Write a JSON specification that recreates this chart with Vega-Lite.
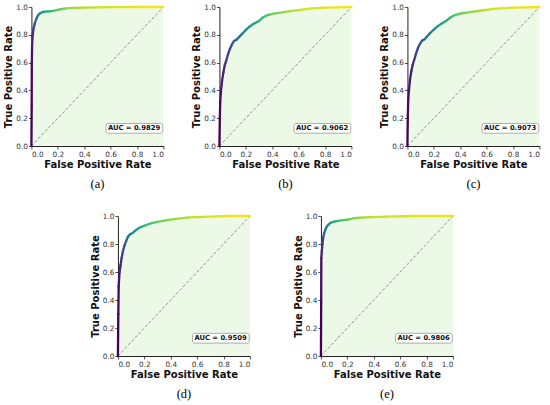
{
  "$schema": "https://vega.github.io/schema/vega-lite/v6.json",
  "padding": {"left": 3, "top": 3, "right": 0, "bottom": 0},
  "background": "white",
  "datasets": {
    "roc": [
      {"p": "a", "fpr": 0, "tpr": 0, "t": 0},
      {"p": "a", "fpr": 0.002, "tpr": 0.3, "t": 0.02},
      {"p": "a", "fpr": 0.003, "tpr": 0.6, "t": 0.05},
      {"p": "a", "fpr": 0.005, "tpr": 0.72, "t": 0.09},
      {"p": "a", "fpr": 0.009, "tpr": 0.79, "t": 0.14},
      {"p": "a", "fpr": 0.015, "tpr": 0.84, "t": 0.21},
      {"p": "a", "fpr": 0.025, "tpr": 0.88, "t": 0.28},
      {"p": "a", "fpr": 0.035, "tpr": 0.91, "t": 0.35},
      {"p": "a", "fpr": 0.05, "tpr": 0.94, "t": 0.43},
      {"p": "a", "fpr": 0.065, "tpr": 0.955, "t": 0.5},
      {"p": "a", "fpr": 0.08, "tpr": 0.962, "t": 0.55},
      {"p": "a", "fpr": 0.1, "tpr": 0.966, "t": 0.6},
      {"p": "a", "fpr": 0.13, "tpr": 0.968, "t": 0.66},
      {"p": "a", "fpr": 0.17, "tpr": 0.972, "t": 0.72},
      {"p": "a", "fpr": 0.21, "tpr": 0.982, "t": 0.78},
      {"p": "a", "fpr": 0.26, "tpr": 0.99, "t": 0.83},
      {"p": "a", "fpr": 0.32, "tpr": 0.993, "t": 0.87},
      {"p": "a", "fpr": 0.4, "tpr": 0.995, "t": 0.9},
      {"p": "a", "fpr": 0.5, "tpr": 0.997, "t": 0.93},
      {"p": "a", "fpr": 0.6, "tpr": 0.999, "t": 0.95},
      {"p": "a", "fpr": 0.8, "tpr": 1, "t": 0.98},
      {"p": "a", "fpr": 1, "tpr": 1, "t": 1},

      {"p": "b", "fpr": 0, "tpr": 0, "t": 0},
      {"p": "b", "fpr": 0.003, "tpr": 0.2, "t": 0.02},
      {"p": "b", "fpr": 0.006, "tpr": 0.32, "t": 0.04},
      {"p": "b", "fpr": 0.012, "tpr": 0.4, "t": 0.06},
      {"p": "b", "fpr": 0.02, "tpr": 0.47, "t": 0.08},
      {"p": "b", "fpr": 0.03, "tpr": 0.53, "t": 0.1},
      {"p": "b", "fpr": 0.04, "tpr": 0.58, "t": 0.13},
      {"p": "b", "fpr": 0.05, "tpr": 0.61, "t": 0.16},
      {"p": "b", "fpr": 0.065, "tpr": 0.66, "t": 0.19},
      {"p": "b", "fpr": 0.08, "tpr": 0.7, "t": 0.22},
      {"p": "b", "fpr": 0.095, "tpr": 0.73, "t": 0.26},
      {"p": "b", "fpr": 0.11, "tpr": 0.755, "t": 0.3},
      {"p": "b", "fpr": 0.13, "tpr": 0.765, "t": 0.34},
      {"p": "b", "fpr": 0.15, "tpr": 0.785, "t": 0.38},
      {"p": "b", "fpr": 0.17, "tpr": 0.805, "t": 0.42},
      {"p": "b", "fpr": 0.2, "tpr": 0.835, "t": 0.49},
      {"p": "b", "fpr": 0.23, "tpr": 0.86, "t": 0.54},
      {"p": "b", "fpr": 0.26, "tpr": 0.88, "t": 0.59},
      {"p": "b", "fpr": 0.3, "tpr": 0.9, "t": 0.65},
      {"p": "b", "fpr": 0.33, "tpr": 0.925, "t": 0.7},
      {"p": "b", "fpr": 0.36, "tpr": 0.94, "t": 0.74},
      {"p": "b", "fpr": 0.4, "tpr": 0.95, "t": 0.79},
      {"p": "b", "fpr": 0.45, "tpr": 0.958, "t": 0.83},
      {"p": "b", "fpr": 0.5, "tpr": 0.965, "t": 0.86},
      {"p": "b", "fpr": 0.55, "tpr": 0.972, "t": 0.89},
      {"p": "b", "fpr": 0.6, "tpr": 0.978, "t": 0.92},
      {"p": "b", "fpr": 0.65, "tpr": 0.985, "t": 0.94},
      {"p": "b", "fpr": 0.7, "tpr": 0.99, "t": 0.95},
      {"p": "b", "fpr": 0.8, "tpr": 0.995, "t": 0.97},
      {"p": "b", "fpr": 0.9, "tpr": 0.998, "t": 0.98},
      {"p": "b", "fpr": 1, "tpr": 1, "t": 1},

      {"p": "c", "fpr": 0, "tpr": 0, "t": 0},
      {"p": "c", "fpr": 0.003, "tpr": 0.22, "t": 0.02},
      {"p": "c", "fpr": 0.006, "tpr": 0.33, "t": 0.04},
      {"p": "c", "fpr": 0.012, "tpr": 0.41, "t": 0.06},
      {"p": "c", "fpr": 0.02, "tpr": 0.48, "t": 0.08},
      {"p": "c", "fpr": 0.03, "tpr": 0.54, "t": 0.1},
      {"p": "c", "fpr": 0.04, "tpr": 0.585, "t": 0.13},
      {"p": "c", "fpr": 0.05, "tpr": 0.615, "t": 0.16},
      {"p": "c", "fpr": 0.065, "tpr": 0.665, "t": 0.19},
      {"p": "c", "fpr": 0.08, "tpr": 0.705, "t": 0.22},
      {"p": "c", "fpr": 0.095, "tpr": 0.735, "t": 0.26},
      {"p": "c", "fpr": 0.11, "tpr": 0.757, "t": 0.3},
      {"p": "c", "fpr": 0.13, "tpr": 0.768, "t": 0.34},
      {"p": "c", "fpr": 0.15, "tpr": 0.79, "t": 0.38},
      {"p": "c", "fpr": 0.17, "tpr": 0.81, "t": 0.42},
      {"p": "c", "fpr": 0.2, "tpr": 0.838, "t": 0.49},
      {"p": "c", "fpr": 0.23, "tpr": 0.862, "t": 0.54},
      {"p": "c", "fpr": 0.26, "tpr": 0.882, "t": 0.59},
      {"p": "c", "fpr": 0.3, "tpr": 0.905, "t": 0.65},
      {"p": "c", "fpr": 0.33, "tpr": 0.928, "t": 0.7},
      {"p": "c", "fpr": 0.36, "tpr": 0.942, "t": 0.74},
      {"p": "c", "fpr": 0.4, "tpr": 0.952, "t": 0.79},
      {"p": "c", "fpr": 0.45, "tpr": 0.96, "t": 0.83},
      {"p": "c", "fpr": 0.5, "tpr": 0.967, "t": 0.86},
      {"p": "c", "fpr": 0.55, "tpr": 0.973, "t": 0.89},
      {"p": "c", "fpr": 0.6, "tpr": 0.979, "t": 0.92},
      {"p": "c", "fpr": 0.65, "tpr": 0.987, "t": 0.94},
      {"p": "c", "fpr": 0.7, "tpr": 0.99, "t": 0.95},
      {"p": "c", "fpr": 0.8, "tpr": 0.995, "t": 0.97},
      {"p": "c", "fpr": 0.9, "tpr": 0.998, "t": 0.98},
      {"p": "c", "fpr": 1, "tpr": 1, "t": 1},

      {"p": "d", "fpr": 0, "tpr": 0, "t": 0},
      {"p": "d", "fpr": 0.003, "tpr": 0.3, "t": 0.02},
      {"p": "d", "fpr": 0.006, "tpr": 0.5, "t": 0.05},
      {"p": "d", "fpr": 0.012, "tpr": 0.6, "t": 0.08},
      {"p": "d", "fpr": 0.02, "tpr": 0.65, "t": 0.12},
      {"p": "d", "fpr": 0.028, "tpr": 0.7, "t": 0.17},
      {"p": "d", "fpr": 0.038, "tpr": 0.75, "t": 0.22},
      {"p": "d", "fpr": 0.05, "tpr": 0.79, "t": 0.28},
      {"p": "d", "fpr": 0.062, "tpr": 0.82, "t": 0.33},
      {"p": "d", "fpr": 0.075, "tpr": 0.85, "t": 0.39},
      {"p": "d", "fpr": 0.09, "tpr": 0.868, "t": 0.44},
      {"p": "d", "fpr": 0.11, "tpr": 0.878, "t": 0.5},
      {"p": "d", "fpr": 0.13, "tpr": 0.895, "t": 0.55},
      {"p": "d", "fpr": 0.16, "tpr": 0.915, "t": 0.61},
      {"p": "d", "fpr": 0.2, "tpr": 0.93, "t": 0.67},
      {"p": "d", "fpr": 0.25, "tpr": 0.948, "t": 0.73},
      {"p": "d", "fpr": 0.3, "tpr": 0.958, "t": 0.78},
      {"p": "d", "fpr": 0.37, "tpr": 0.97, "t": 0.83},
      {"p": "d", "fpr": 0.44, "tpr": 0.98, "t": 0.87},
      {"p": "d", "fpr": 0.54, "tpr": 0.99, "t": 0.91},
      {"p": "d", "fpr": 0.65, "tpr": 0.994, "t": 0.94},
      {"p": "d", "fpr": 0.75, "tpr": 0.997, "t": 0.96},
      {"p": "d", "fpr": 0.85, "tpr": 1, "t": 0.98},
      {"p": "d", "fpr": 1, "tpr": 1, "t": 1},

      {"p": "e", "fpr": 0, "tpr": 0, "t": 0},
      {"p": "e", "fpr": 0.002, "tpr": 0.4, "t": 0.03},
      {"p": "e", "fpr": 0.003, "tpr": 0.7, "t": 0.08},
      {"p": "e", "fpr": 0.007, "tpr": 0.75, "t": 0.13},
      {"p": "e", "fpr": 0.012, "tpr": 0.8, "t": 0.2},
      {"p": "e", "fpr": 0.018, "tpr": 0.85, "t": 0.28},
      {"p": "e", "fpr": 0.025, "tpr": 0.88, "t": 0.34},
      {"p": "e", "fpr": 0.035, "tpr": 0.905, "t": 0.4},
      {"p": "e", "fpr": 0.045, "tpr": 0.925, "t": 0.46},
      {"p": "e", "fpr": 0.058, "tpr": 0.94, "t": 0.52},
      {"p": "e", "fpr": 0.075, "tpr": 0.952, "t": 0.57},
      {"p": "e", "fpr": 0.1, "tpr": 0.96, "t": 0.63},
      {"p": "e", "fpr": 0.13, "tpr": 0.965, "t": 0.69},
      {"p": "e", "fpr": 0.17, "tpr": 0.97, "t": 0.74},
      {"p": "e", "fpr": 0.21, "tpr": 0.975, "t": 0.79},
      {"p": "e", "fpr": 0.25, "tpr": 0.984, "t": 0.83},
      {"p": "e", "fpr": 0.3, "tpr": 0.988, "t": 0.87},
      {"p": "e", "fpr": 0.38, "tpr": 0.992, "t": 0.91},
      {"p": "e", "fpr": 0.5, "tpr": 0.996, "t": 0.94},
      {"p": "e", "fpr": 0.7, "tpr": 1, "t": 0.97},
      {"p": "e", "fpr": 1, "tpr": 1, "t": 1}
    ],
    "auc": [
      {"p": "a", "auc": 0.9829},
      {"p": "b", "auc": 0.9062},
      {"p": "c", "auc": 0.9073},
      {"p": "d", "auc": 0.9509},
      {"p": "e", "auc": 0.9806}
    ]
  },
  "config": {
    "view": {"stroke": null},
    "font": "DejaVu Sans",
    "axis": {
      "grid": false,
      "domainColor": "#222",
      "domainWidth": 1,
      "tickColor": "#222",
      "tickSize": 3,
      "tickWidth": 0.8,
      "labelFont": "DejaVu Sans",
      "labelFontSize": 7.3,
      "labelColor": "#333",
      "labelPadding": 1,
      "titleFont": "DejaVu Sans",
      "titleFontSize": 10,
      "titleFontWeight": "bold",
      "titleColor": "#111",
      "values": [0, 0.2, 0.4, 0.6, 0.8, 1],
      "format": ".1f"
    },
    "axisX": {"titlePadding": 2},
    "axisY": {"titlePadding": 2},
    "title": {"font": "Liberation Serif", "fontSize": 12.5, "fontWeight": "normal", "color": "#000", "offset": 9}
  },
  "vconcat": [
    {
      "spacing": 26,
      "hconcat": [
        {
          "width": 132, "height": 139,
          "title": {"text": "(a)", "orient": "bottom"},
          "layer": [
            {"data": {"name": "roc"}, "transform": [{"filter": "datum.p === 'a'"}],
             "mark": {"type": "area", "color": "#ecf9e6"},
             "encoding": {
               "x": {"field": "fpr", "type": "quantitative", "scale": {"domain": [0, 1], "nice": false}, "axis": {"title": "False Positive Rate"}},
               "y": {"field": "tpr", "type": "quantitative", "scale": {"domain": [0, 1], "nice": false}, "axis": {"title": "True Positive Rate"}}}},
            {"data": {"name": "auc"}, "transform": [{"filter": "datum.p === 'a'"}],
             "mark": {"type": "rule", "color": "#777", "strokeDash": [3, 2], "strokeWidth": 0.8},
             "encoding": {"x": {"datum": 0}, "y": {"datum": 0}, "x2": {"datum": 1}, "y2": {"datum": 1}}},
            {"data": {"name": "roc"},
             "transform": [{"filter": "datum.p === 'a'"},
               {"window": [{"op": "lead", "field": "fpr", "as": "fpr2"}, {"op": "lead", "field": "tpr", "as": "tpr2"}], "sort": [{"field": "t"}]},
               {"filter": "isValid(datum.fpr2)"}],
             "mark": {"type": "rule", "strokeWidth": 2.3, "strokeCap": "round"},
             "encoding": {
               "x": {"field": "fpr", "type": "quantitative"}, "y": {"field": "tpr", "type": "quantitative"},
               "x2": {"field": "fpr2"}, "y2": {"field": "tpr2"},
               "color": {"field": "t", "type": "quantitative", "scale": {"scheme": "viridis", "domain": [0, 1]}, "legend": null}}},
            {"data": {"name": "auc"}, "transform": [{"filter": "datum.p === 'a'"}],
             "mark": {"type": "rect", "fill": "white", "stroke": "#999", "strokeWidth": 0.8, "cornerRadius": 2},
             "encoding": {"x": {"datum": 0.565}, "x2": {"datum": 0.995}, "y": {"datum": 0.092}, "y2": {"datum": 0.162}}},
            {"data": {"name": "auc"}, "transform": [{"filter": "datum.p === 'a'"}, {"calculate": "'AUC = ' + format(datum.auc, '.4f')", "as": "label"}],
             "mark": {"type": "text", "align": "right", "baseline": "middle", "fontSize": 6.8, "fontWeight": "bold", "font": "DejaVu Sans", "color": "#111"},
             "encoding": {"x": {"datum": 0.975}, "y": {"datum": 0.127}, "text": {"field": "label"}}}
          ]
        },
        {
          "width": 132, "height": 139,
          "title": {"text": "(b)", "orient": "bottom"},
          "layer": [
            {"data": {"name": "roc"}, "transform": [{"filter": "datum.p === 'b'"}],
             "mark": {"type": "area", "color": "#ecf9e6"},
             "encoding": {
               "x": {"field": "fpr", "type": "quantitative", "scale": {"domain": [0, 1], "nice": false}, "axis": {"title": "False Positive Rate"}},
               "y": {"field": "tpr", "type": "quantitative", "scale": {"domain": [0, 1], "nice": false}, "axis": {"title": "True Positive Rate"}}}},
            {"data": {"name": "auc"}, "transform": [{"filter": "datum.p === 'b'"}],
             "mark": {"type": "rule", "color": "#777", "strokeDash": [3, 2], "strokeWidth": 0.8},
             "encoding": {"x": {"datum": 0}, "y": {"datum": 0}, "x2": {"datum": 1}, "y2": {"datum": 1}}},
            {"data": {"name": "roc"},
             "transform": [{"filter": "datum.p === 'b'"},
               {"window": [{"op": "lead", "field": "fpr", "as": "fpr2"}, {"op": "lead", "field": "tpr", "as": "tpr2"}], "sort": [{"field": "t"}]},
               {"filter": "isValid(datum.fpr2)"}],
             "mark": {"type": "rule", "strokeWidth": 2.3, "strokeCap": "round"},
             "encoding": {
               "x": {"field": "fpr", "type": "quantitative"}, "y": {"field": "tpr", "type": "quantitative"},
               "x2": {"field": "fpr2"}, "y2": {"field": "tpr2"},
               "color": {"field": "t", "type": "quantitative", "scale": {"scheme": "viridis", "domain": [0, 1]}, "legend": null}}},
            {"data": {"name": "auc"}, "transform": [{"filter": "datum.p === 'b'"}],
             "mark": {"type": "rect", "fill": "white", "stroke": "#999", "strokeWidth": 0.8, "cornerRadius": 2},
             "encoding": {"x": {"datum": 0.565}, "x2": {"datum": 0.995}, "y": {"datum": 0.092}, "y2": {"datum": 0.162}}},
            {"data": {"name": "auc"}, "transform": [{"filter": "datum.p === 'b'"}, {"calculate": "'AUC = ' + format(datum.auc, '.4f')", "as": "label"}],
             "mark": {"type": "text", "align": "right", "baseline": "middle", "fontSize": 6.8, "fontWeight": "bold", "font": "DejaVu Sans", "color": "#111"},
             "encoding": {"x": {"datum": 0.975}, "y": {"datum": 0.127}, "text": {"field": "label"}}}
          ]
        },
        {
          "width": 132, "height": 139,
          "title": {"text": "(c)", "orient": "bottom"},
          "layer": [
            {"data": {"name": "roc"}, "transform": [{"filter": "datum.p === 'c'"}],
             "mark": {"type": "area", "color": "#ecf9e6"},
             "encoding": {
               "x": {"field": "fpr", "type": "quantitative", "scale": {"domain": [0, 1], "nice": false}, "axis": {"title": "False Positive Rate"}},
               "y": {"field": "tpr", "type": "quantitative", "scale": {"domain": [0, 1], "nice": false}, "axis": {"title": "True Positive Rate"}}}},
            {"data": {"name": "auc"}, "transform": [{"filter": "datum.p === 'c'"}],
             "mark": {"type": "rule", "color": "#777", "strokeDash": [3, 2], "strokeWidth": 0.8},
             "encoding": {"x": {"datum": 0}, "y": {"datum": 0}, "x2": {"datum": 1}, "y2": {"datum": 1}}},
            {"data": {"name": "roc"},
             "transform": [{"filter": "datum.p === 'c'"},
               {"window": [{"op": "lead", "field": "fpr", "as": "fpr2"}, {"op": "lead", "field": "tpr", "as": "tpr2"}], "sort": [{"field": "t"}]},
               {"filter": "isValid(datum.fpr2)"}],
             "mark": {"type": "rule", "strokeWidth": 2.3, "strokeCap": "round"},
             "encoding": {
               "x": {"field": "fpr", "type": "quantitative"}, "y": {"field": "tpr", "type": "quantitative"},
               "x2": {"field": "fpr2"}, "y2": {"field": "tpr2"},
               "color": {"field": "t", "type": "quantitative", "scale": {"scheme": "viridis", "domain": [0, 1]}, "legend": null}}},
            {"data": {"name": "auc"}, "transform": [{"filter": "datum.p === 'c'"}],
             "mark": {"type": "rect", "fill": "white", "stroke": "#999", "strokeWidth": 0.8, "cornerRadius": 2},
             "encoding": {"x": {"datum": 0.565}, "x2": {"datum": 0.995}, "y": {"datum": 0.092}, "y2": {"datum": 0.162}}},
            {"data": {"name": "auc"}, "transform": [{"filter": "datum.p === 'c'"}, {"calculate": "'AUC = ' + format(datum.auc, '.4f')", "as": "label"}],
             "mark": {"type": "text", "align": "right", "baseline": "middle", "fontSize": 6.8, "fontWeight": "bold", "font": "DejaVu Sans", "color": "#111"},
             "encoding": {"x": {"datum": 0.975}, "y": {"datum": 0.127}, "text": {"field": "label"}}}
          ]
        }
      ]
    },
    {
      "spacing": 41,
      "hconcat": [
        {
          "width": 132, "height": 140,
          "title": {"text": "(d)", "orient": "bottom"},
          "layer": [
            {"data": {"name": "roc"}, "transform": [{"filter": "datum.p === 'd'"}],
             "mark": {"type": "area", "color": "#ecf9e6"},
             "encoding": {
               "x": {"field": "fpr", "type": "quantitative", "scale": {"domain": [0, 1], "nice": false}, "axis": {"title": "False Positive Rate"}},
               "y": {"field": "tpr", "type": "quantitative", "scale": {"domain": [0, 1], "nice": false}, "axis": {"title": "True Positive Rate"}}}},
            {"data": {"name": "auc"}, "transform": [{"filter": "datum.p === 'd'"}],
             "mark": {"type": "rule", "color": "#777", "strokeDash": [3, 2], "strokeWidth": 0.8},
             "encoding": {"x": {"datum": 0}, "y": {"datum": 0}, "x2": {"datum": 1}, "y2": {"datum": 1}}},
            {"data": {"name": "roc"},
             "transform": [{"filter": "datum.p === 'd'"},
               {"window": [{"op": "lead", "field": "fpr", "as": "fpr2"}, {"op": "lead", "field": "tpr", "as": "tpr2"}], "sort": [{"field": "t"}]},
               {"filter": "isValid(datum.fpr2)"}],
             "mark": {"type": "rule", "strokeWidth": 2.3, "strokeCap": "round"},
             "encoding": {
               "x": {"field": "fpr", "type": "quantitative"}, "y": {"field": "tpr", "type": "quantitative"},
               "x2": {"field": "fpr2"}, "y2": {"field": "tpr2"},
               "color": {"field": "t", "type": "quantitative", "scale": {"scheme": "viridis", "domain": [0, 1]}, "legend": null}}},
            {"data": {"name": "auc"}, "transform": [{"filter": "datum.p === 'd'"}],
             "mark": {"type": "rect", "fill": "white", "stroke": "#999", "strokeWidth": 0.8, "cornerRadius": 2},
             "encoding": {"x": {"datum": 0.565}, "x2": {"datum": 0.995}, "y": {"datum": 0.092}, "y2": {"datum": 0.162}}},
            {"data": {"name": "auc"}, "transform": [{"filter": "datum.p === 'd'"}, {"calculate": "'AUC = ' + format(datum.auc, '.4f')", "as": "label"}],
             "mark": {"type": "text", "align": "right", "baseline": "middle", "fontSize": 6.8, "fontWeight": "bold", "font": "DejaVu Sans", "color": "#111"},
             "encoding": {"x": {"datum": 0.975}, "y": {"datum": 0.127}, "text": {"field": "label"}}}
          ]
        },
        {
          "width": 132, "height": 140,
          "title": {"text": "(e)", "orient": "bottom"},
          "layer": [
            {"data": {"name": "roc"}, "transform": [{"filter": "datum.p === 'e'"}],
             "mark": {"type": "area", "color": "#ecf9e6"},
             "encoding": {
               "x": {"field": "fpr", "type": "quantitative", "scale": {"domain": [0, 1], "nice": false}, "axis": {"title": "False Positive Rate"}},
               "y": {"field": "tpr", "type": "quantitative", "scale": {"domain": [0, 1], "nice": false}, "axis": {"title": "True Positive Rate"}}}},
            {"data": {"name": "auc"}, "transform": [{"filter": "datum.p === 'e'"}],
             "mark": {"type": "rule", "color": "#777", "strokeDash": [3, 2], "strokeWidth": 0.8},
             "encoding": {"x": {"datum": 0}, "y": {"datum": 0}, "x2": {"datum": 1}, "y2": {"datum": 1}}},
            {"data": {"name": "roc"},
             "transform": [{"filter": "datum.p === 'e'"},
               {"window": [{"op": "lead", "field": "fpr", "as": "fpr2"}, {"op": "lead", "field": "tpr", "as": "tpr2"}], "sort": [{"field": "t"}]},
               {"filter": "isValid(datum.fpr2)"}],
             "mark": {"type": "rule", "strokeWidth": 2.3, "strokeCap": "round"},
             "encoding": {
               "x": {"field": "fpr", "type": "quantitative"}, "y": {"field": "tpr", "type": "quantitative"},
               "x2": {"field": "fpr2"}, "y2": {"field": "tpr2"},
               "color": {"field": "t", "type": "quantitative", "scale": {"scheme": "viridis", "domain": [0, 1]}, "legend": null}}},
            {"data": {"name": "auc"}, "transform": [{"filter": "datum.p === 'e'"}],
             "mark": {"type": "rect", "fill": "white", "stroke": "#999", "strokeWidth": 0.8, "cornerRadius": 2},
             "encoding": {"x": {"datum": 0.565}, "x2": {"datum": 0.995}, "y": {"datum": 0.092}, "y2": {"datum": 0.162}}},
            {"data": {"name": "auc"}, "transform": [{"filter": "datum.p === 'e'"}, {"calculate": "'AUC = ' + format(datum.auc, '.4f')", "as": "label"}],
             "mark": {"type": "text", "align": "right", "baseline": "middle", "fontSize": 6.8, "fontWeight": "bold", "font": "DejaVu Sans", "color": "#111"},
             "encoding": {"x": {"datum": 0.975}, "y": {"datum": 0.127}, "text": {"field": "label"}}}
          ]
        }
      ]
    }
  ],
  "spacing": 21,
  "center": true
}
